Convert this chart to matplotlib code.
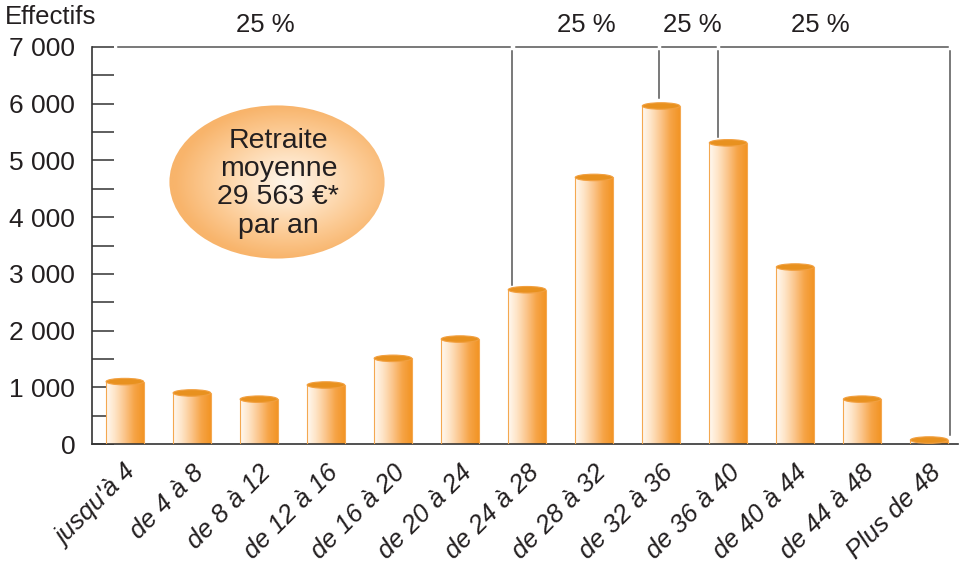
import numpy as np
import matplotlib
matplotlib.use("Agg")
import matplotlib.pyplot as plt
from matplotlib.colors import LinearSegmentedColormap
from matplotlib.patches import Ellipse
from matplotlib.ticker import MultipleLocator, FuncFormatter

# ---------------- data ----------------
categories = ["jusqu'à 4", "de 4 à 8", "de 8 à 12", "de 12 à 16", "de 16 à 20",
              "de 20 à 24", "de 24 à 28", "de 28 à 32", "de 32 à 36", "de 36 à 40",
              "de 40 à 44", "de 44 à 48", "Plus de 48"]
effectifs = [1100, 900, 790, 1040, 1510, 1850, 2720, 4700, 5960, 5310, 3120, 790, 70]
yticks = [0, 1000, 2000, 3000, 4000, 5000, 6000, 7000]
quartile_labels = ["25 %", "25 %", "25 %", "25 %"]
bubble_text = "Retraite\nmoyenne\n29 563 €*\npar an"

# ---------------- style ----------------
plt.rcParams['font.family'] = ['Liberation Sans', 'DejaVu Sans']
TXT = '#231F20'
fig = plt.figure(figsize=(9.62, 5.62), dpi=100)
ax = fig.add_axes([92/962, 1-444/562, (958-92)/962, (444-47)/562])
ax.set_xlim(-0.49, 12.43)
ax.set_ylim(0, 7000)

x = np.arange(len(categories))
w = 0.56
bars = ax.bar(x, effectifs, width=w, color='none', edgecolor='#F4A850', linewidth=0.8, zorder=3)

cmap = LinearSegmentedColormap.from_list('bar', ['#FFF9F2', '#FEE3C4', '#FBC489', '#F6A447', '#F29424'])
grad = np.linspace(0, 1, 256).reshape(1, -1)
cap_h = 115
for rect, v, xi in zip(bars, effectifs, x):
    im = ax.imshow(grad, cmap=cmap, aspect='auto', extent=[xi - w/2, xi + w/2, 0, v],
                   zorder=2, interpolation='bicubic')
    im.set_clip_path(rect)
    ax.add_patch(Ellipse((xi, v), w, cap_h, facecolor='#E8911F', edgecolor='#F2A040',
                         linewidth=0.8, zorder=4))

# ---------------- axes ----------------
for s in ['top', 'right']:
    ax.spines[s].set_visible(False)
ax.spines['left'].set_color('#333333')
ax.spines['bottom'].set_color('#333333')
ax.spines['left'].set_linewidth(1.2)
ax.spines['bottom'].set_linewidth(1.2)
ax.set_yticks(yticks)
ax.yaxis.set_minor_locator(MultipleLocator(500))
ax.yaxis.set_major_formatter(FuncFormatter(lambda v, p: f"{int(v):,}".replace(",", " ")))
ax.tick_params(axis='y', which='both', direction='in', length=16, width=1.1,
               color='#333333', labelsize=19, labelcolor=TXT, pad=10)
ax.tick_params(axis='y', which='major', pad=12)
ax.set_xticks(x)
ax.set_xticklabels(categories, rotation=45, ha='right', rotation_mode='anchor',
                   fontsize=18.5, fontstyle='italic', color=TXT)
ax.tick_params(axis='x', length=0, pad=12)

fig.text(5/962, 1-17/562, "Effectifs", fontsize=18.5, color=TXT, va='center', ha='left')

# ---------------- quartile brackets ----------------
LC = '#555555'
q_bounds = [5.78, 7.97, 8.85, 12.31]
q_drop = [2800, 6100, 5410, 160]
q_text_x = [2.09, 6.88, 8.46, 10.37]
left_start = -0.10
starts = [left_start] + [b + 0.05 for b in q_bounds[:-1]]
for s, e in zip(starts, q_bounds):
    ax.plot([s, e - 0.03], [7000, 7000], color=LC, lw=1.1, clip_on=False, zorder=1)
for b, d in zip(q_bounds, q_drop):
    ax.plot([b, b], [6930, d], color=LC, lw=1.1, clip_on=False, zorder=1)
for tx, lab in zip(q_text_x, quartile_labels):
    ax.text(tx, 7390, lab, fontsize=18.5, color=TXT, ha='center', va='center', clip_on=False)

# ---------------- bubble ----------------
ecx, ecy, ew, eh = 2.27, 4620, 3.21, 2700
ell = Ellipse((ecx, ecy), ew, eh, facecolor='none', edgecolor='none', zorder=5)
ax.add_patch(ell)
gx, gy = np.meshgrid(np.linspace(-1, 1, 300), np.linspace(-1, 1, 300))
r = np.sqrt(((gx - 0.1) / 1.05) ** 2 + ((gy - 0.0) / 1.0) ** 2)
bcmap = LinearSegmentedColormap.from_list('bub', ['#FFF5EA', '#FEE2C2', '#FCCB95', '#F8B46B'])
bim = ax.imshow(np.clip(r, 0, 1), cmap=bcmap, aspect='auto', origin='lower',
                extent=[ecx - ew/2, ecx + ew/2, ecy - eh/2, ecy + eh/2], zorder=5,
                interpolation='bicubic')
bim.set_clip_path(ell)
ax.text(ecx + 0.02, ecy - 20, bubble_text, fontsize=20.5, color=TXT, ha='center', va='center',
        linespacing=1.12, zorder=6)

fig.savefig("out.png", dpi=100)
